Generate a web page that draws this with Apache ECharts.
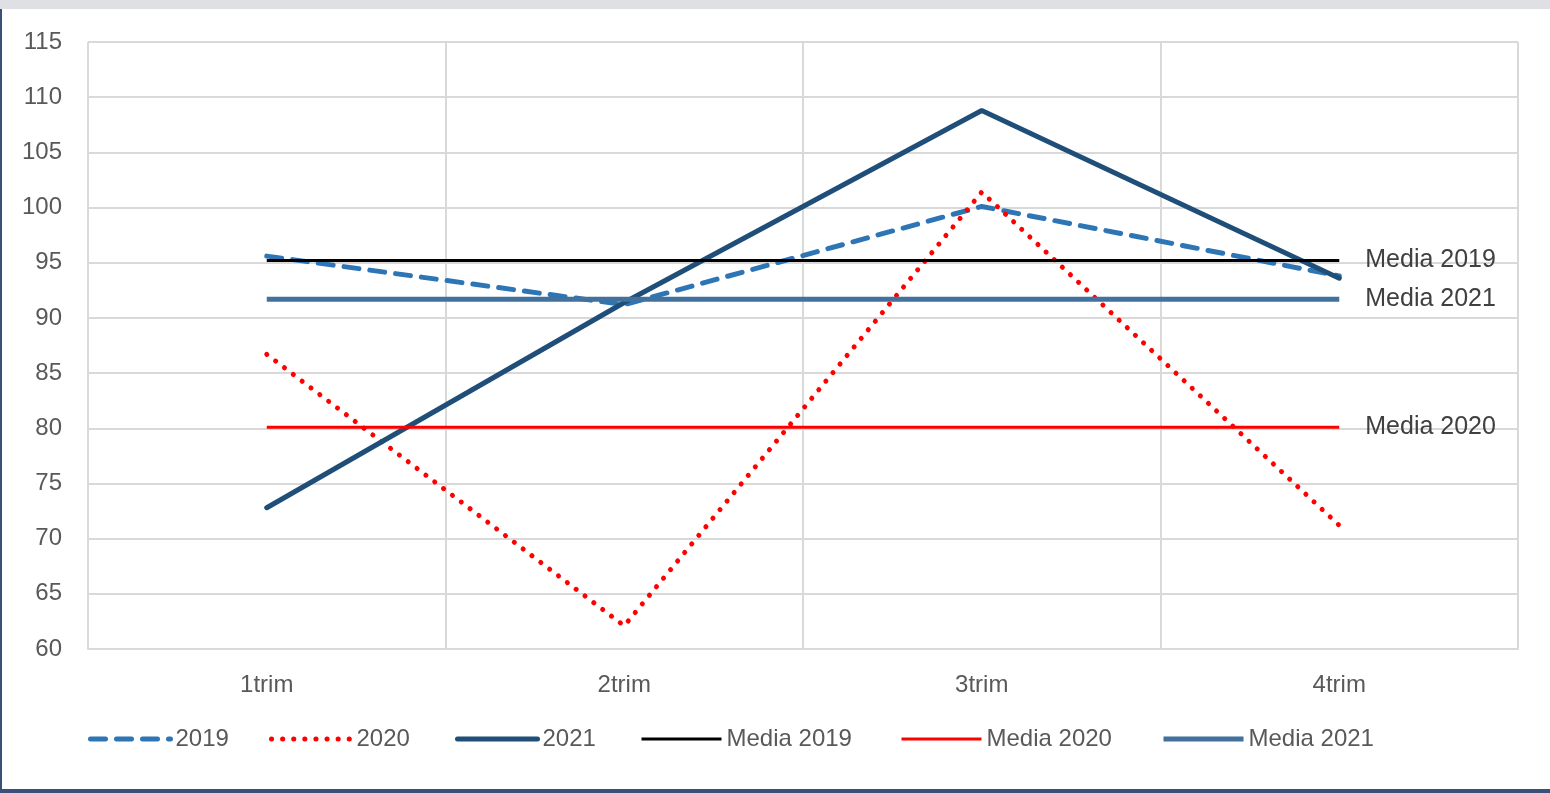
<!DOCTYPE html>
<html><head><meta charset="utf-8">
<script src="https://cdn.jsdelivr.net/npm/echarts@6/dist/echarts.min.js"></script>
<style>
html,body{margin:0;padding:0;background:#fff;}
#c{position:absolute;left:0;top:0;width:1550px;height:793px;}
.top{position:absolute;left:0;top:0;width:1550px;height:9px;background:#dfe0e4;}
.lft{position:absolute;left:0;top:9px;width:2px;height:784px;background:#3b5078;}
.bot{position:absolute;left:0;top:789px;width:1550px;height:4px;background:#3b5078;}
</style></head>
<body>
<div id="c"></div>
<div class="top"></div><div class="lft"></div><div class="bot"></div>
<script>
const categories = ['1trim','2trim','3trim','4trim'];
const yTicks = [60,65,70,75,80,85,90,95,100,105,110,115];
const s2019 = [95.6, 91.2, 100.1, 93.8];
const s2020 = [86.7, 62.1, 101.4, 71.2];
const s2021 = [72.8, 91.4, 108.8, 93.6];
const media2019 = [95.2, 95.2, 95.2, 95.2];
const media2020 = [80.1, 80.1, 80.1, 80.1];
const media2021 = [91.7, 91.7, 91.7, 91.7];
const names = ['2019','2020','2021','Media 2019','Media 2020','Media 2021'];

const font = 'Liberation Sans, Arial, sans-serif';
const chart = echarts.init(document.getElementById('c'), null, {renderer:'canvas'});
const legendLeft = [83, 264, 450, 635, 895, 1156];
const legendWidth = [5, 5, 5, 3, 3, 5];
const legends = names.map((n,i)=>({
  data:[n], left: legendLeft[i], top: 722, itemWidth: 80, itemHeight: 14, itemGap: 0,
  lineStyle:{width: legendWidth[i]},
  itemStyle:{color:'transparent', borderColor:'transparent', borderWidth:0},
  textStyle:{fontFamily:font, fontSize:24, color:'#595959'}
}));
function endLbl(){
  return {show:true, formatter:'{a}', distance:26, fontFamily:font, fontSize:25, color:'#404040'};
}
chart.setOption({
  animation:false,
  backgroundColor:'transparent',
  grid:{left:88, right:32, top:42, bottom:144},
  legend: legends,
  xAxis:{type:'category', data:categories, boundaryGap:true,
    axisLine:{show:true, lineStyle:{color:'#d9d9d9', width:2}},
    axisTick:{show:false},
    splitLine:{show:true, lineStyle:{color:'#d9d9d9', width:2}},
    axisLabel:{margin:24, fontFamily:font, fontSize:24, color:'#595959'}
  },
  yAxis:{type:'value', min:yTicks[0], max:yTicks[yTicks.length-1], interval:5,
    axisLine:{show:false}, axisTick:{show:false},
    splitLine:{lineStyle:{color:'#d9d9d9', width:2}},
    axisLabel:{margin:26, fontFamily:font, fontSize:24, color:'#595959'}
  },
  series:[
    {name:names[0], type:'line', data:s2019, symbol:'none', color:'#2e75b6',
      lineStyle:{color:'#2e75b6', width:5, type:[15,11], cap:'round'}},
    {name:names[1], type:'line', data:s2020, symbol:'none', color:'#ff0000',
      lineStyle:{color:'#ff0000', width:5, type:[0.1,11], cap:'round'}},
    {name:names[2], type:'line', data:s2021, symbol:'none', color:'#1f4e79',
      lineStyle:{color:'#1f4e79', width:5, cap:'round'}},
    {name:names[3], type:'line', data:media2019, symbol:'none', color:'#000000',
      lineStyle:{color:'#000000', width:3}, endLabel:endLbl()},
    {name:names[4], type:'line', data:media2020, symbol:'none', color:'#ff0000',
      lineStyle:{color:'#ff0000', width:3}, endLabel:endLbl()},
    {name:names[5], type:'line', data:media2021, symbol:'none', color:'#41719c',
      lineStyle:{color:'#41719c', width:5}, endLabel:endLbl()}
  ]
});
</script>
</body></html>
